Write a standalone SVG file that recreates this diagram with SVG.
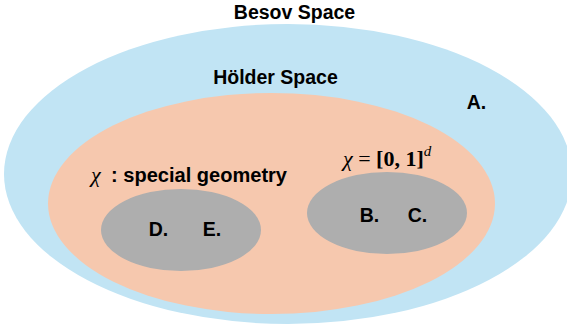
<svg xmlns="http://www.w3.org/2000/svg" width="567" height="328" viewBox="0 0 567 328">
<style>
.t{font-family:"Liberation Sans",Arial,sans-serif;font-weight:bold;font-size:19.5px;fill:#000}
.m{font-family:"Liberation Serif","DejaVu Serif",serif;font-size:22px;fill:#000}
</style>
<rect width="567" height="328" fill="#fff"/>
<g id="besov">
<ellipse cx="288" cy="174" rx="284" ry="150" fill="#C1E4F4"/>
<text class="t" x="294.5" y="19" text-anchor="middle">Besov Space</text>
<text class="t" x="476.5" y="109" text-anchor="middle">A.</text>
</g>
<g id="holder">
<ellipse cx="271.5" cy="203.5" rx="223.5" ry="110.5" fill="#F6C8AE"/>
<text class="t" x="275.5" y="84" text-anchor="middle">Hölder Space</text>
</g>
<g id="special">
<text class="m" x="91" y="182" font-style="italic">χ</text>
<text class="t" x="111" y="182" font-size="20px" textLength="176" lengthAdjust="spacingAndGlyphs">: special geometry</text>
<ellipse cx="181" cy="230" rx="80" ry="41" fill="#AEAEAE"/>
<text class="t" x="158.5" y="236" text-anchor="middle">D.</text>
<text class="t" x="212" y="236" text-anchor="middle">E.</text>
</g>
<g id="cube">
<text class="m" x="343" y="166"><tspan font-style="italic">χ</tspan> = <tspan font-weight="bold">[0, 1]</tspan><tspan font-style="italic" font-size="15px" dy="-10">d</tspan></text>
<ellipse cx="387" cy="213" rx="80" ry="41" fill="#AEAEAE"/>
<text class="t" x="369.5" y="222" text-anchor="middle">B.</text>
<text class="t" x="417.5" y="222" text-anchor="middle">C.</text>
</g>
<g id="connectors"/>
</svg>
